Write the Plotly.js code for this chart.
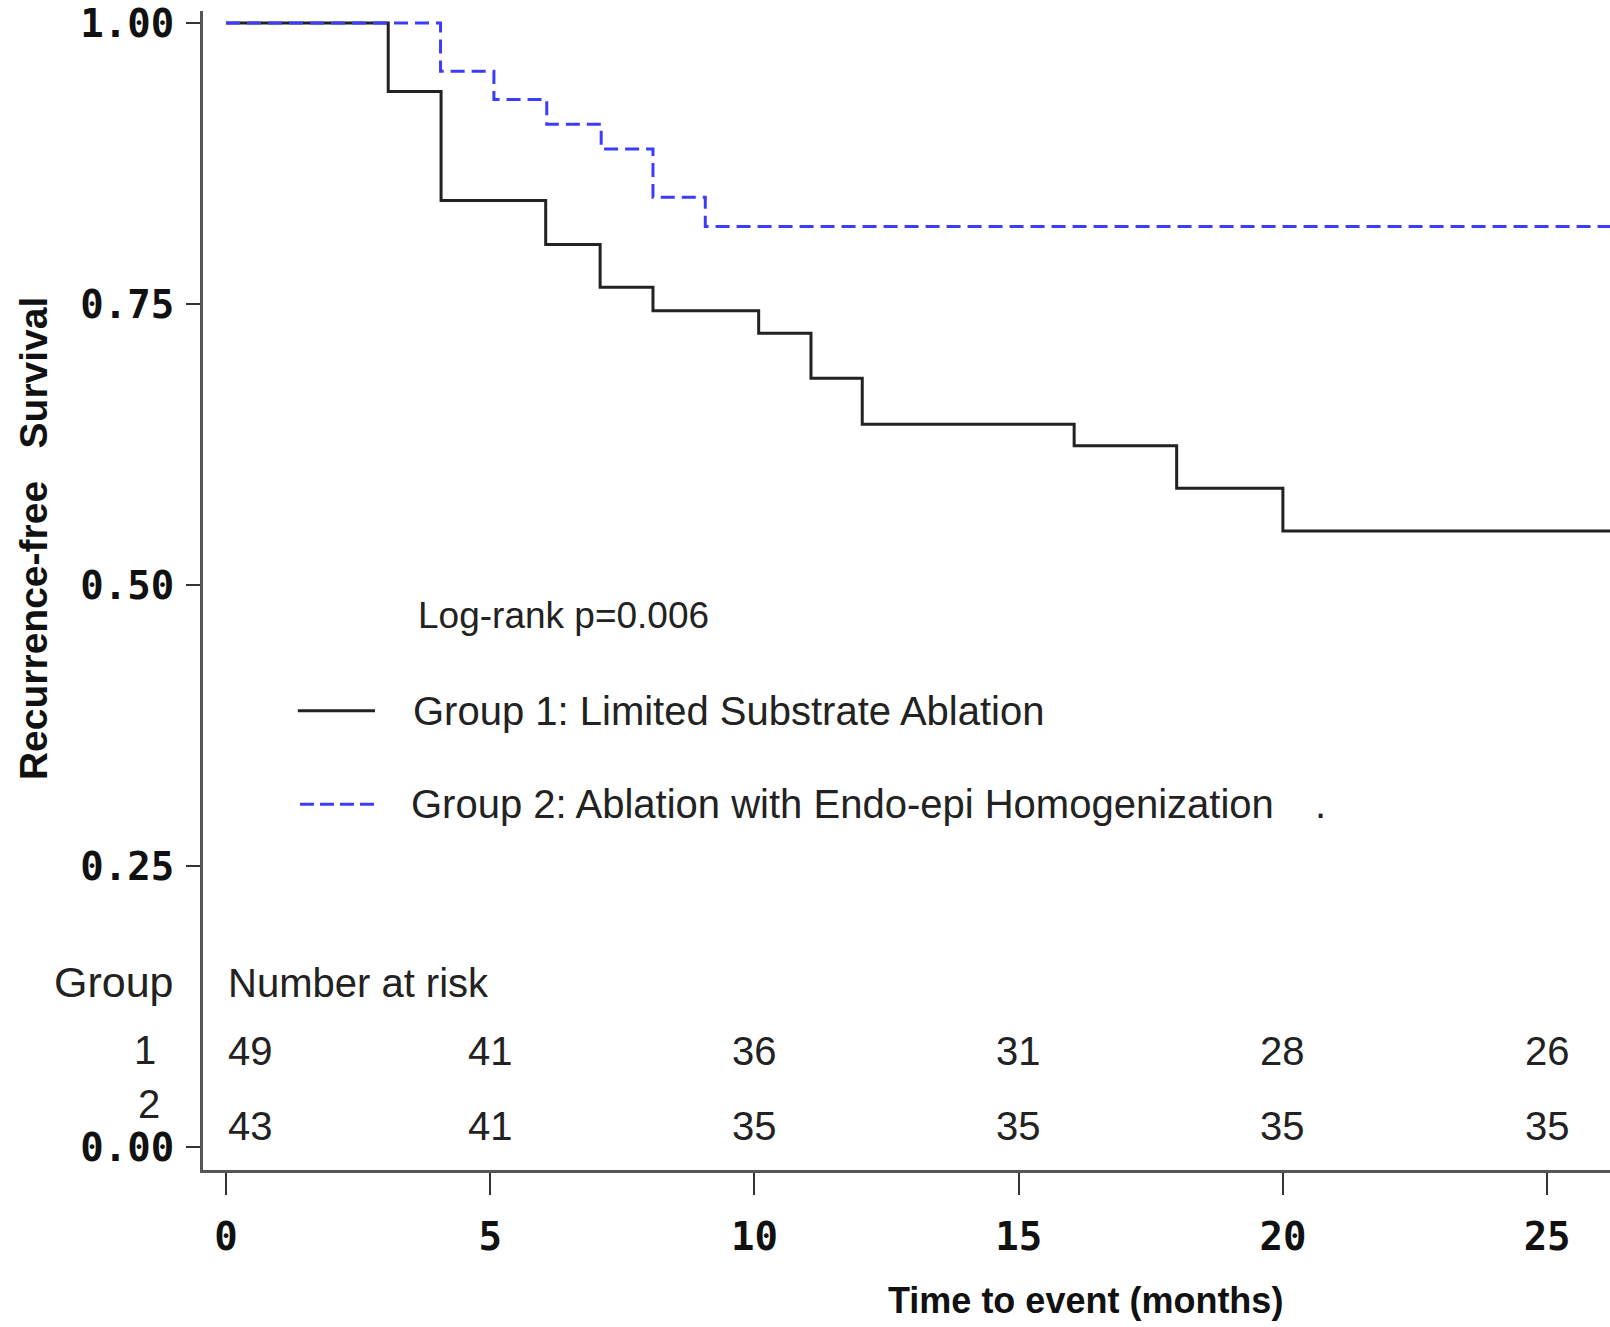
<!DOCTYPE html>
<html>
<head>
<meta charset="utf-8">
<script src="https://cdn.plot.ly/plotly-3.0.1.min.js"></script>
<style>html,body{margin:0;padding:0;background:#fff;}#chart{width:1610px;height:1327px;}</style>
</head>
<body>
<div id="chart"></div>
<script>
// Group 1: Limited Substrate Ablation (step times in months, survival)
const group1Time = [0, 3.07, 4.07, 6.05, 7.08, 8.08, 10.08, 11.07, 12.04, 16.05, 17.99, 20.0, 26.2];
const group1Surv = [1.0, 0.939, 0.842, 0.803, 0.765, 0.744, 0.724, 0.684, 0.643, 0.624, 0.586, 0.548, 0.548];
// Group 2: Ablation with Endo-epi Homogenization
const group2Time = [0, 4.06, 5.07, 6.07, 7.1, 8.08, 9.07, 26.2];
const group2Surv = [1.0, 0.957, 0.932, 0.910, 0.888, 0.845, 0.819, 0.819];
// Number at risk
const riskTimes = [0, 5, 10, 15, 20, 25];
const risk1 = [49, 41, 36, 31, 28, 26];
const risk2 = [43, 41, 35, 35, 35, 35];
const groupNames = ['Group 1: Limited Substrate Ablation', 'Group 2: Ablation with Endo-epi Homogenization'];
const yTickVals = [0, 0.25, 0.5, 0.75, 1.0];
const yTickText = ['0.00', '0.25', '0.50', '0.75', '1.00'];
const xTickVals = [0, 5, 10, 15, 20, 25];

const txtFont = {family: 'Liberation Sans, Arial, sans-serif', size: 40, color: '#222'};
const tickFont = {family: 'DejaVu Sans Mono, monospace', size: 39, color: '#111', weight: 'bold'};

const traces = [
  {x: group1Time, y: group1Surv, type: 'scatter', mode: 'lines', name: groupNames[0],
   line: {shape: 'hv', color: '#222222', width: 3}},
  {x: group2Time, y: group2Surv, type: 'scatter', mode: 'lines', name: groupNames[1],
   line: {shape: 'hv', color: '#3c3cff', width: 3, dash: '14px,7px'}}
];

const annotations = [];
const row1Y = 0.085, row2Y = 0.019;
riskTimes.forEach((t, i) => {
  const anchor = i === 0 ? 'left' : 'center';
  annotations.push({x: t, y: row1Y, xref: 'x', yref: 'y', text: String(risk1[i]), showarrow: false, xanchor: anchor, font: txtFont});
  annotations.push({x: t, y: row2Y, xref: 'x', yref: 'y', text: String(risk2[i]), showarrow: false, xanchor: anchor, font: txtFont});
});
annotations.push({x: 0, y: 0.146, xref: 'x', yref: 'y', text: 'Number at risk', showarrow: false, xanchor: 'left', font: txtFont});
annotations.push({x: -0.019, y: 0.147, xref: 'paper', yref: 'y', text: 'Group', showarrow: false, xanchor: 'right', font: Object.assign({}, txtFont, {size: 43})});
annotations.push({x: -0.032, y: 0.086, xref: 'paper', yref: 'y', text: '1', showarrow: false, xanchor: 'right', font: txtFont});
annotations.push({x: -0.029, y: 0.038, xref: 'paper', yref: 'y', text: '2', showarrow: false, xanchor: 'right', font: txtFont});
annotations.push({x: 3.6, y: 0.473, xref: 'x', yref: 'y', text: 'Log-rank p=0.006', showarrow: false, xanchor: 'left', font: Object.assign({}, txtFont, {size: 37})});
annotations.push({x: 3.5, y: 0.388, xref: 'x', yref: 'y', text: groupNames[0], showarrow: false, xanchor: 'left', font: txtFont});
annotations.push({x: 3.46, y: 0.305, xref: 'x', yref: 'y', text: groupNames[1], showarrow: false, xanchor: 'left', font: txtFont});
annotations.push({x: 20.72, y: 0.305, xref: 'x', yref: 'y', text: '.', showarrow: false, xanchor: 'center', font: txtFont});
// axis titles
annotations.push({x: 0.627, y: -0.113, xref: 'paper', yref: 'paper', text: 'Time to event (months)', showarrow: false,
  xanchor: 'center', yanchor: 'middle', font: {family: 'Liberation Sans, Arial, sans-serif', size: 36, color: '#111', weight: 'bold'}});
annotations.push({x: -0.1208, y: 0.5444, xref: 'paper', yref: 'paper', text: 'Recurrence-free\u00a0\u00a0\u00a0Survival', showarrow: false,
  textangle: -90, xanchor: 'center', yanchor: 'middle', font: {family: 'Liberation Sans, Arial, sans-serif', size: 39, color: '#111', weight: 'bold'}});

const shapes = [
  {type: 'line', xref: 'x', yref: 'y', x0: 1.36, x1: 2.82, y0: 0.388, y1: 0.388, line: {color: '#222222', width: 3}},
  {type: 'line', xref: 'x', yref: 'y', x0: 1.40, x1: 2.82, y0: 0.305, y1: 0.305, line: {color: '#3c3cff', width: 3, dash: '14px,6px'}}
];

const layout = {
  width: 1610, height: 1327,
  margin: {l: 203, r: 0, t: 11, b: 157},
  paper_bgcolor: '#ffffff', plot_bgcolor: '#ffffff',
  showlegend: false,
  xaxis: {range: [-0.435, 26.19], tickvals: xTickVals, ticktext: xTickVals.map(String),
    showgrid: false, zeroline: false, showline: true, linecolor: '#555', linewidth: 3,
    ticks: 'outside', ticklen: 22, tickwidth: 2, tickcolor: '#333', tickfont: tickFont, ticklabelstandoff: 8},
  yaxis: {range: [-0.0205, 1.0107], tickvals: yTickVals, ticktext: yTickText,
    showgrid: false, zeroline: false, showline: true, linecolor: '#555', linewidth: 3,
    ticks: 'outside', ticklen: 14, tickwidth: 2, tickcolor: '#333', tickfont: tickFont, ticklabelstandoff: 4},
  annotations: annotations,
  shapes: shapes
};

Plotly.newPlot('chart', traces, layout, {displayModeBar: false, staticPlot: true});
</script>
</body>
</html>
